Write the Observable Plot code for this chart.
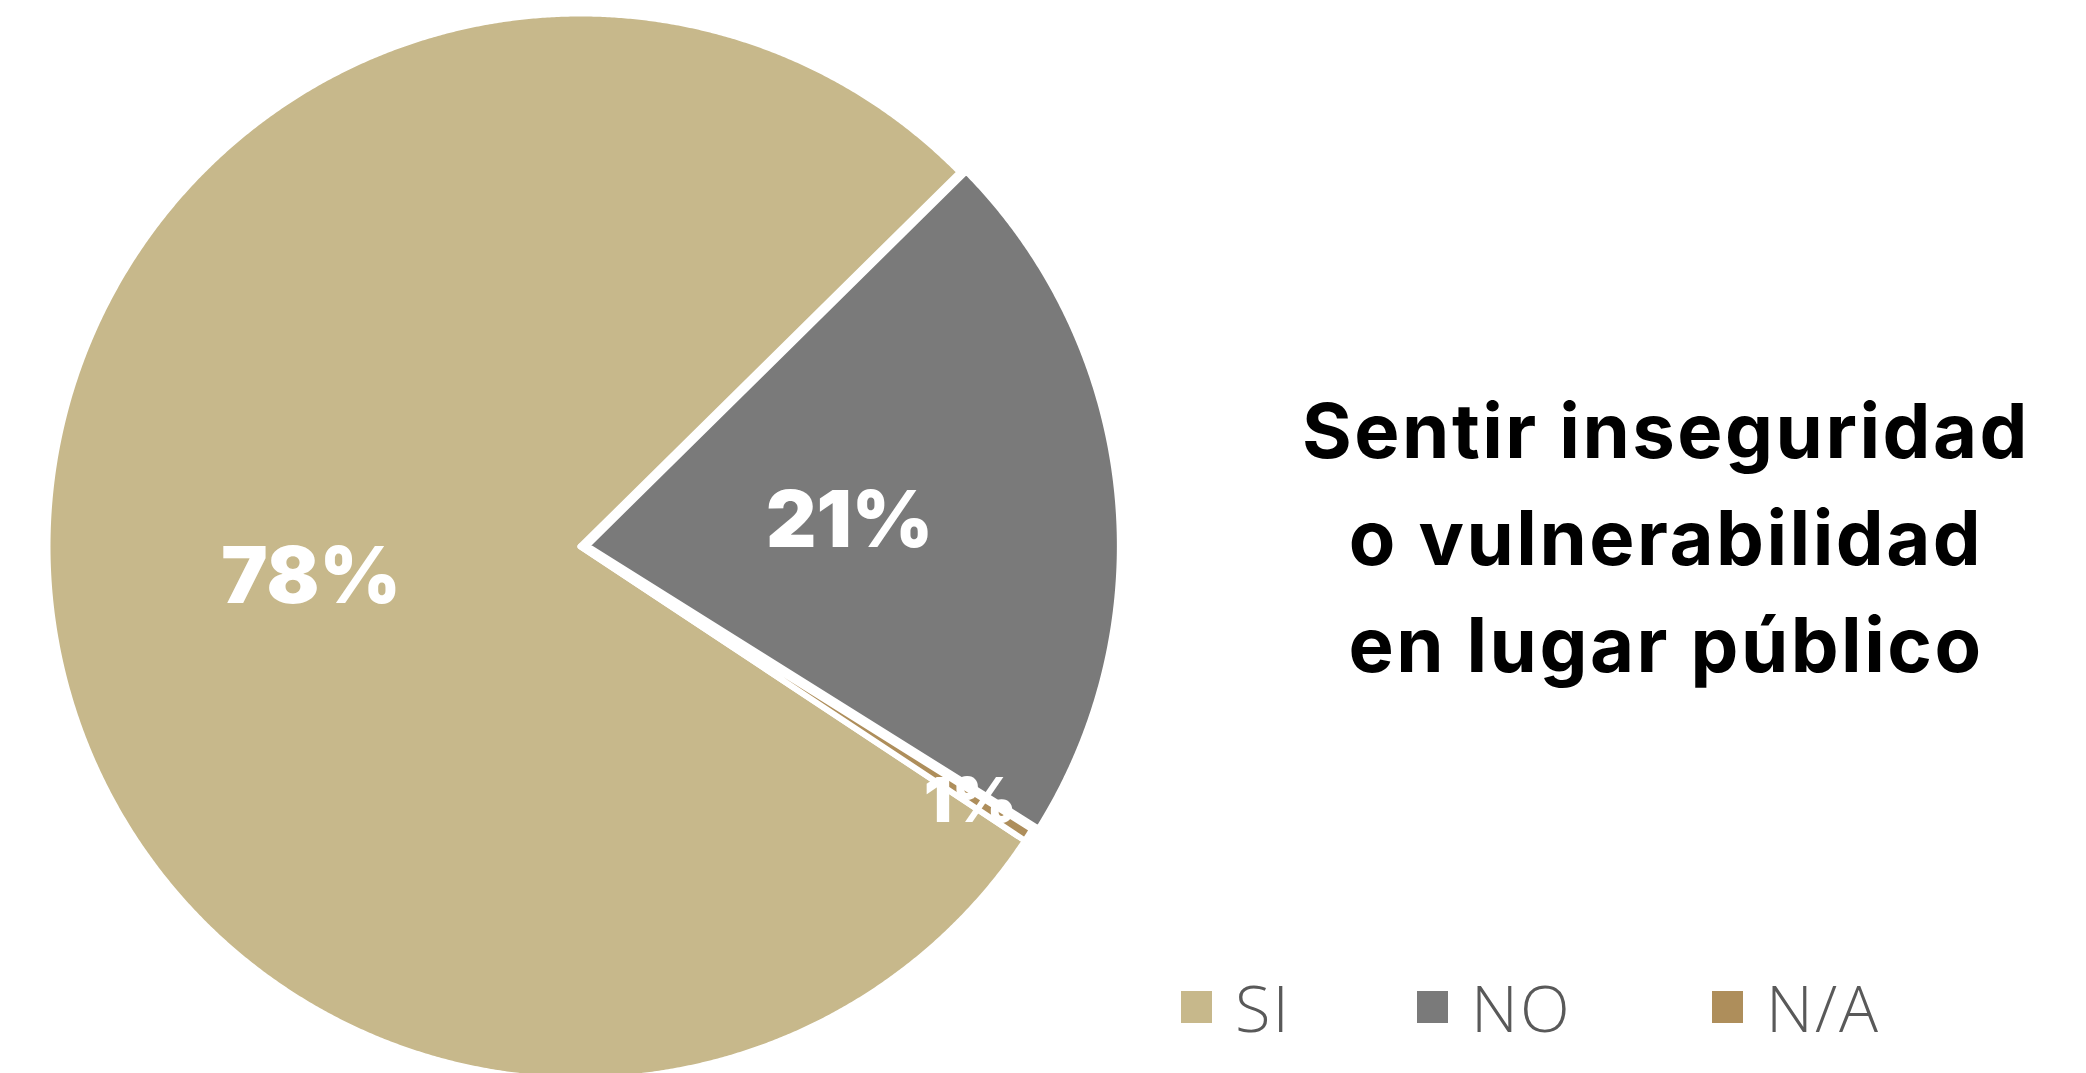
<!DOCTYPE html>
<html>
<head>
<meta charset="utf-8">
<script src="https://cdn.jsdelivr.net/npm/d3@7"></script>
<script src="https://cdn.jsdelivr.net/npm/@observablehq/plot@0.6"></script>
<style>
  html, body { margin: 0; padding: 0; background: #fff; overflow: hidden; width: 2086px; height: 1073px; }
  #wrap { position: relative; width: 2086px; height: 1073px; }
  #chart { position: absolute; left: 0; top: 0; }
  #title {
    position: absolute; left: 1666px; top: 377px; transform: translateX(-50%);
    font-family: Inter, "Open Sans", sans-serif; font-weight: 700; font-size: 76px;
    line-height: 107px; text-align: center; white-space: nowrap; color: #000; letter-spacing: 2.5px;
  }
  .lg { position: absolute; top: 967px; height: 80px; display: flex; align-items: center;
        font-family: "Open Sans", Lato, sans-serif; font-weight: 300; font-size: 65px; color: #595959;
        letter-spacing: 2px; }
  .lg .sw { width: 31px; height: 32px; margin-right: 23px; }
</style>
</head>
<body>
<div id="wrap">
  <div id="chart"></div>
  <div id="title"></div>
  <div id="legend"></div>
</div>
<script>
// ---- data ----
const categories = ["SI", "NO", "N/A"];
const values = [78.3, 21.3, 0.4];
const labels = ["78%", "21%", "1%"];
const colors = ["#C7B88B", "#7A7A7A", "#AE8E5B"];
const titleLines = ["Sentir inseguridad", "o vulnerabilidad", "en lugar público"];

// ---- layout ----
const W = 2086, H = 1073;
const CX = 580, CY = 546, R = 533;
const startDeg = 123.5;              // first slice start, clockwise from 12 o'clock
const explode = {"NO": 0.012};       // radial offset (unit radius)
const legendLeft = [1181, 1417, 1712];

const total = d3.sum(values);
const pie = d3.pie().sort(null).value(d => d.value)
  .startAngle(startDeg * Math.PI / 180)
  .endAngle(startDeg * Math.PI / 180 + 2 * Math.PI);
const arcs = pie(categories.map((c, i) => ({cat: c, value: values[i], label: labels[i]})));

const slicePts = [];
const labelPts = [];
for (const a of arcs) {
  const mid = (a.startAngle + a.endAngle) / 2;
  const off = explode[a.data.cat] || 0;
  const ox = off * Math.sin(mid), oy = -off * Math.cos(mid);
  slicePts.push({cat: a.data.cat, x: ox, y: oy});
  const n = Math.max(4, Math.ceil((a.endAngle - a.startAngle) / (0.25 * Math.PI / 180)));
  for (let k = 0; k <= n; k++) {
    const t = a.startAngle + (a.endAngle - a.startAngle) * k / n;
    slicePts.push({cat: a.data.cat, x: ox + Math.sin(t), y: oy - Math.cos(t)});
  }
  slicePts.push({cat: a.data.cat, x: ox, y: oy});
  const share = a.data.value / total;
  const rr = share >= 0.05 ? 0.508 : 0.87;
  labelPts.push({text: a.data.label, x: rr * Math.sin(mid), y: -rr * Math.cos(mid), size: share >= 0.05 ? 78 : 62});
}

const chart = Plot.plot({
  width: W, height: H, margin: 0,
  x: {domain: [-CX / R, (W - CX) / R], range: [0, W], axis: null},
  y: {domain: [-CY / R, (H - CY) / R], range: [0, H], axis: null},
  color: {domain: categories, range: colors},
  style: {background: "white"},
  marks: [
    Plot.line(slicePts, {x: "x", y: "y", z: "cat", fill: "cat", stroke: "white", strokeWidth: 6,
      strokeLinejoin: "miter", strokeMiterlimit: 10, curve: "linear"}),
    Plot.text(labelPts, {x: "x", y: "y", dy: 5, text: "text", fill: "white", fontSize: "size",
      fontWeight: 900, fontFamily: "Inter, 'Open Sans', sans-serif", textAnchor: "middle"})
  ]
});
document.getElementById("chart").appendChild(chart);

document.getElementById("title").innerHTML = titleLines.join("<br>");

const lg = document.getElementById("legend");
categories.forEach((c, i) => {
  const item = document.createElement("div");
  item.className = "lg";
  item.style.left = legendLeft[i] + "px";
  const sw = document.createElement("div");
  sw.className = "sw";
  sw.style.background = colors[i];
  const tx = document.createElement("span");
  tx.textContent = c;
  item.appendChild(sw); item.appendChild(tx);
  lg.appendChild(item);
});
</script>
</body>
</html>
